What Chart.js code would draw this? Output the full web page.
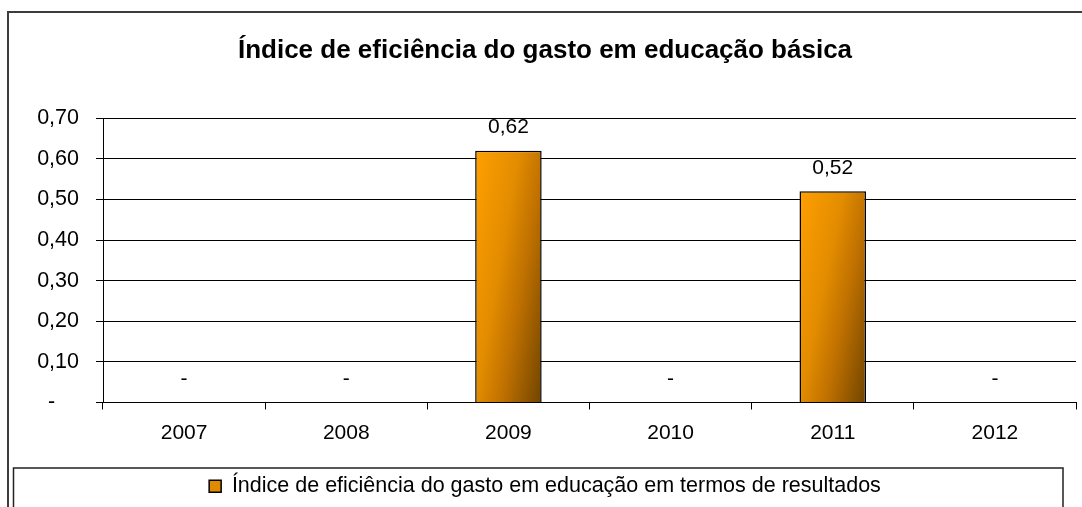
<!DOCTYPE html>
<html>
<head>
<meta charset="utf-8">
<script src="https://cdn.jsdelivr.net/npm/chart.js@4"></script>
<style>
  html, body { margin: 0; padding: 0; background: #fff; }
  #wrap { width: 1082px; height: 507px; }
</style>
</head>
<body>
<div id="wrap"><canvas id="grafico" width="1082" height="507"></canvas></div>
<script>
// donnees du graphique
const anos = ["2007", "2008", "2009", "2010", "2011", "2012"];
const indiceEficiencia = [0, 0, 0.62, 0, 0.52, 0];
const ticksY = [0, 0.1, 0.2, 0.3, 0.4, 0.5, 0.6, 0.7];
const titulo = "Índice de eficiência do gasto em educação básica";
const nomeSerie = "Índice de eficiência do gasto em educação em termos de resultados";

const fonte = "'Liberation Sans', Arial, sans-serif";

function formatar(v) {
    if (v === 0) return "-";
    return v.toFixed(2).replace(".", ",");
}

// degradé orange -> brun pour chaque barre (surtout horizontal, un peu vertical)
function couleurBarre(context) {
    const chart = context.chart;
    const sx = chart.scales.x, sy = chart.scales.y;
    if (!sx || !sy || !chart.chartArea) return "#f59300";
    const v = context.raw;
    const cx = sx.getPixelForValue(context.dataIndex);
    const w = (sx.width / anos.length) * 0.41;
    const top = sy.getPixelForValue(v);
    const base = sy.getPixelForValue(0);
    const h = Math.max(base - top, 1);
    const a = 0.6 / w, b = 0.4 / h;
    const n = a * a + b * b;
    const x0 = cx - w / 2;
    const g = chart.ctx.createLinearGradient(x0, top, x0 + a / n, top + b / n);
    g.addColorStop(0, "#ffa000");
    g.addColorStop(0.4, "#e38c00");
    g.addColorStop(0.65, "#bd6f00");
    g.addColorStop(1, "#704400");
    return g;
}

// cadre exterieur et cadre de la legende
const cadres = {
    id: "cadres",
    afterDraw(chart) {
        const ctx = chart.ctx;
        ctx.save();
        ctx.strokeStyle = "#3c3c3c";
        ctx.lineWidth = 2;
        ctx.beginPath();
        ctx.moveTo(8, 520);
        ctx.lineTo(8, 12);
        ctx.lineTo(1090, 12);
        ctx.stroke();
        ctx.strokeStyle = "#222";
        ctx.lineWidth = 1.5;
        ctx.beginPath();
        ctx.moveTo(13.5, 520);
        ctx.lineTo(13.5, 468);
        ctx.lineTo(1063, 468);
        ctx.lineTo(1063, 520);
        ctx.stroke();
        ctx.restore();
    }
};

// etiquettes de valeurs au-dessus des barres
const etiquettes = {
    id: "etiquettes",
    afterDatasetsDraw(chart) {
        const ctx = chart.ctx;
        const meta = chart.getDatasetMeta(0);
        ctx.save();
        ctx.font = "21px " + fonte;
        ctx.fillStyle = "#000";
        ctx.textAlign = "center";
        ctx.textBaseline = "middle";
        meta.data.forEach((bar, i) => {
            ctx.fillText(formatar(indiceEficiencia[i]), bar.x, bar.y - 23);
        });
        ctx.restore();
    }
};

new Chart(document.getElementById("grafico"), {
    type: "bar",
    data: {
        labels: anos,
        datasets: [{
            label: nomeSerie,
            data: indiceEficiencia,
            backgroundColor: couleurBarre,
            borderColor: "#000",
            borderWidth: 1.5,
            barPercentage: 0.41,
            categoryPercentage: 1
        }]
    },
    options: {
        responsive: false,
        animation: false,
        layout: { padding: { left: 14, right: 6, top: 12, bottom: 0 } },
        plugins: {
            title: {
                display: true,
                text: titulo,
                color: "#000",
                font: { family: fonte, size: 26, weight: "bold" },
                padding: { top: 23, bottom: 52 }
            },
            legend: {
                display: true,
                position: "bottom",
                labels: {
                    color: "#000",
                    font: { family: fonte, size: 21.5 },
                    boxWidth: 12,
                    boxHeight: 12,
                    padding: 8,
                    generateLabels: (chart) => [{
                        text: nomeSerie,
                        fillStyle: "#e08a00",
                        strokeStyle: "#000",
                        lineWidth: 1.5,
                        datasetIndex: 0
                    }]
                }
            },
            tooltip: { enabled: false }
        },
        scales: {
            x: {
                offset: true,
                grid: {
                    offset: true,
                    drawOnChartArea: false,
                    drawTicks: true,
                    tickLength: 7,
                    color: "#000"
                },
                border: { display: true, color: "#000" },
                ticks: {
                    color: "#000",
                    font: { family: fonte, size: 21 },
                    padding: 11
                },
                afterFit: (scale) => { scale.height = 65; }
            },
            y: {
                min: 0,
                max: 0.7,
                afterBuildTicks: (scale) => {
                    scale.ticks = ticksY.map(v => ({ value: v }));
                },
                grid: {
                    color: "#000",
                    lineWidth: 1,
                    tickLength: 7
                },
                border: { display: true, color: "#000" },
                ticks: {
                    color: "#000",
                    font: { family: fonte, size: 21.5 },
                    padding: 17,
                    callback: (v) => v === 0 ? "-\u2007\u2007" : formatar(v)
                },
                afterFit: (scale) => { scale.width = 89; }
            }
        }
    },
    plugins: [cadres, etiquettes]
});
</script>
</body>
</html>
